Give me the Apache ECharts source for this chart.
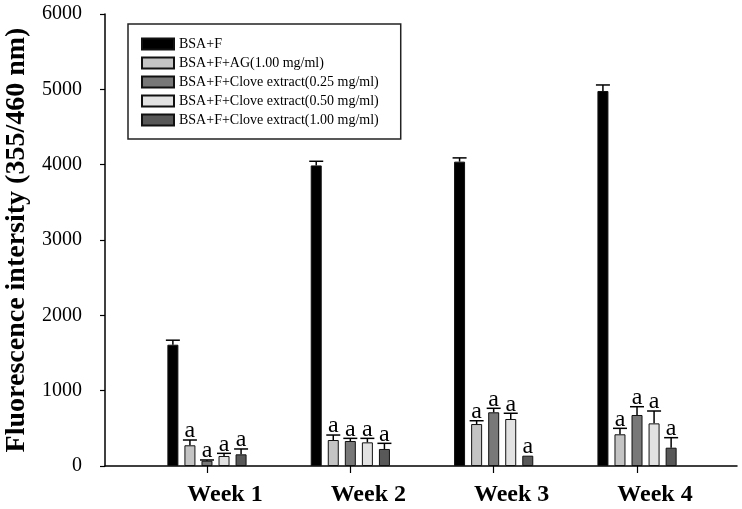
<!DOCTYPE html>
<html><head><meta charset="utf-8">
<script src="https://cdn.jsdelivr.net/npm/echarts@6/dist/echarts.min.js"></script>
<style>html,body{margin:0;padding:0;background:#fff}#c{width:742px;height:509px}</style>
</head><body><div id="c"></div>
<script>
const categories = ['Week 1', 'Week 2', 'Week 3', 'Week 4'];
const seriesNames = ['BSA+F', 'BSA+F+AG(1.00 mg/ml)', 'BSA+F+Clove extract(0.25 mg/ml)', 'BSA+F+Clove extract(0.50 mg/ml)', 'BSA+F+Clove extract(1.00 mg/ml)'];
const bsaF = [1610, 3990, 4040, 4978];
const bsaFErr = [60, 55, 50, 80];
const ag = [275, 345, 557, 421];
const agErr = [70, 66, 44, 79];
const clove025 = [70, 332, 713, 677];
const clove025Err = [10, 35, 53, 110];
const clove050 = [133, 314, 624, 566];
const clove050Err = [35, 53, 76, 164];
const clove100 = [155, 226, 137, 243];
const clove100Err = [71, 75, 0, 133];
const sigBsaF = ['', '', '', ''];
const sigAg = ['a', 'a', 'a', 'a'];
const sig025 = ['a', 'a', 'a', 'a'];
const sig050 = ['a', 'a', 'a', 'a'];
const sig100 = ['a', 'a', 'a', 'a'];
const yTicks = [0, 1000, 2000, 3000, 4000, 5000, 6000];

const values = [bsaF, ag, clove025, clove050, clove100];
const errors = [bsaFErr, agErr, clove025Err, clove050Err, clove100Err];
const sigs = [sigBsaF, sigAg, sig025, sig050, sig100];
const colors = ['#000000', '#c4c4c4', '#787878', '#e2e2e2', '#585858'];

const SERIF = '"Liberation Serif", "Times New Roman", serif';
const BAR_W = 11, GAP = 0.55, STEP = BAR_W * (1 + GAP);

const series = [];
values.forEach((vals, k) => {
  series.push({
    name: seriesNames[k], type: 'bar', xAxisIndex: 1, yAxisIndex: 1,
    data: vals, barWidth: BAR_W, barGap: (GAP * 100) + '%',
    itemStyle: { color: colors[k], borderColor: '#111', borderWidth: 1 },
    z: 2
  });
});
values.forEach((vals, k) => {
  const errs = errors[k], labs = sigs[k];
  series.push({
    type: 'custom', xAxisIndex: 1, yAxisIndex: 1, silent: true, z: 5,
    data: vals.map((v, i) => [i, v, errs[i]]),
    encode: { x: 0, y: 1 },
    renderItem(params, api) {
      const c = api.value(0), v = api.value(1), e = api.value(2);
      const lab = labs[params.dataIndex];
      const top = api.coord([c, v]);
      const hi = api.coord([c, v + e]);
      const x = top[0] + (k - 2) * STEP;
      const children = [];
      const st = { stroke: '#000', lineWidth: 1.5 };
      if (e > 0) {
        children.push({ type: 'line', shape: { x1: x, y1: top[1], x2: x, y2: hi[1] }, style: st });
        children.push({ type: 'line', shape: { x1: x - 7, y1: hi[1], x2: x + 7, y2: hi[1] }, style: st });
      }
      if (lab) {
        children.push({ type: 'text', style: { text: lab, x: x, y: hi[1] + 3, align: 'center', verticalAlign: 'bottom', font: '24px ' + SERIF, fill: '#000' } });
      }
      return { type: 'group', children };
    }
  });
});

const gridBase = { top: 14, bottom: 43, containLabel: false, outerBoundsMode: 'none' };
const option = {
  animation: false,
  backgroundColor: '#fff',
  grid: [
    Object.assign({ left: 105, right: 5 }, gridBase),
    Object.assign({ left: 135.3, right: 33.3 }, gridBase)
  ],
  legend: {
    data: seriesNames, orient: 'vertical', left: 128, top: 24,
    itemWidth: 32, itemHeight: 11, itemGap: 5, icon: 'rect',
    padding: [13, 22, 12, 13],
    borderColor: '#222', borderWidth: 1.5,
    textStyle: { fontFamily: SERIF, fontSize: 14, color: '#000' },
    selectedMode: false
  },
  xAxis: [
    { type: 'category', gridIndex: 0, data: [''], axisLine: { lineStyle: { color: '#000', width: 1.5 } }, axisTick: { show: false }, axisLabel: { show: false } },
    { type: 'category', gridIndex: 1, data: categories,
      axisLine: { show: false },
      axisTick: { show: true, alignWithLabel: true, length: 7, lineStyle: { color: '#000', width: 1.2 } },
      axisLabel: { margin: 17, padding: [0, 0, 0, 36], fontFamily: SERIF, fontWeight: 'bold', fontSize: 24, color: '#000' } }
  ],
  yAxis: [
    { type: 'value', gridIndex: 0, min: yTicks[0], max: yTicks[yTicks.length - 1], interval: 1000,
      name: 'Fluorescence intersity (355/460 nm)', nameLocation: 'middle', nameGap: 70,
      nameTextStyle: { fontFamily: SERIF, fontWeight: 'bold', fontSize: 28, color: '#000' },
      axisLine: { show: true, lineStyle: { color: '#000', width: 1.5 } },
      axisTick: { show: true, length: 5, lineStyle: { color: '#000', width: 1.2 } },
      axisLabel: { margin: 23, fontFamily: SERIF, fontSize: 20, color: '#000', formatter: v => String(v) },
      splitLine: { show: false } },
    { type: 'value', gridIndex: 1, min: yTicks[0], max: yTicks[yTicks.length - 1], interval: 1000, show: false, splitLine: { show: false } }
  ],
  series
};
const chart = echarts.init(document.getElementById('c'), null, { renderer: 'canvas' });
chart.setOption(option);
</script></body></html>
